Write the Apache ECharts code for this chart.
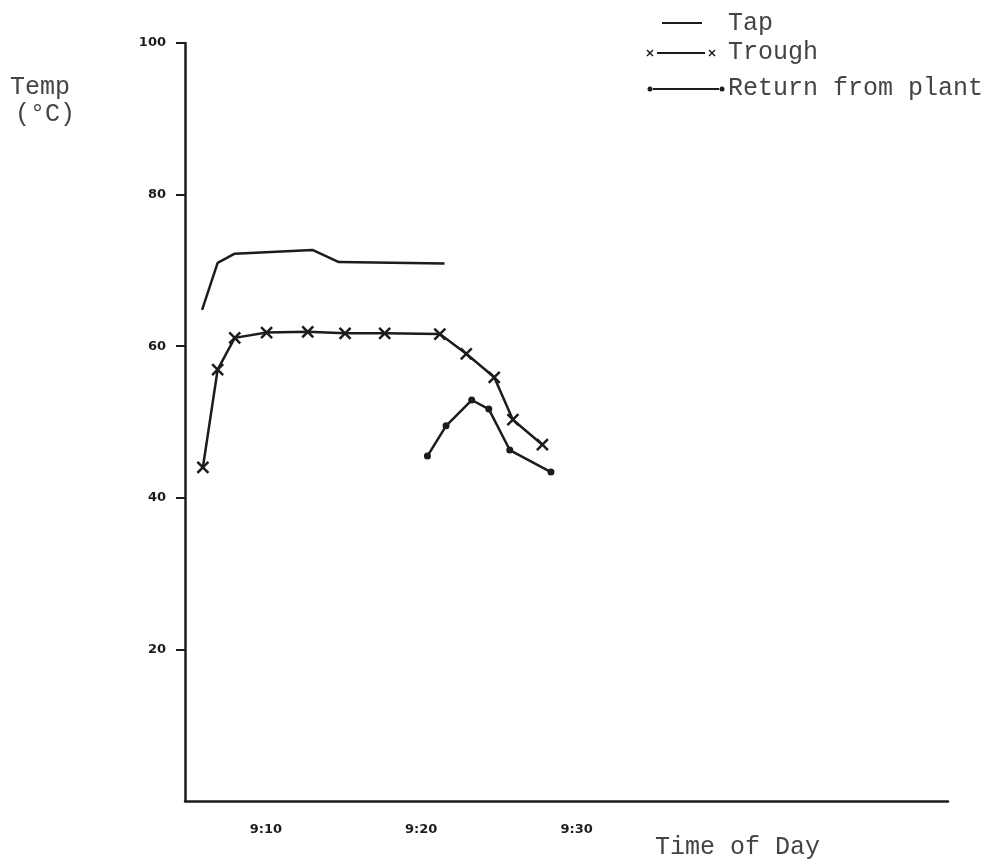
<!DOCTYPE html>
<html>
<head>
<meta charset="utf-8">
<script src="https://cdn.jsdelivr.net/npm/echarts@6/dist/echarts.min.js"></script>
<style>
  html, body { margin: 0; padding: 0; background: #ffffff; }
  #chart { width: 999px; height: 859px; }
</style>
</head>
<body>
<div id="chart"></div>
<script>
// Temperatures logged between 9:05 and 9:30; time is minutes past 9:00.
const seriesNames = ['Tap', 'Trough', 'Return from plant'];

const tapTime = [5.9, 6.9, 8.0, 13.0, 14.7, 21.5];
const tapTemp = [64.8, 71.0, 72.2, 72.7, 71.1, 70.9];

const troughTime = [5.95, 6.9, 8.0, 10.05, 12.7, 15.1, 17.65, 21.2, 22.9, 24.7, 25.9, 27.8];
const troughTemp = [44.0, 56.9, 61.1, 61.8, 61.9, 61.7, 61.7, 61.6, 59.0, 55.9, 50.3, 47.0];

const returnTime = [20.4, 21.6, 23.25, 24.35, 25.7, 28.35];
const returnTemp = [45.5, 49.5, 52.9, 51.7, 46.3, 43.4];

const timeTicks = [10, 20, 30];
const timeTickLabels = ['9:10', '9:20', '9:30'];
const tempTicks = [20, 40, 60, 80, 100];

const ink = '#1c1c1c';
const typeInk = '#444444';
const typeFont = '"Liberation Mono", "DejaVu Sans Mono", monospace';
const handFont = '"DejaVu Sans", sans-serif';

function pairs(xs, ys) {
  return xs.map((x, i) => [x, ys[i]]);
}

const crossPath = 'path://M0,0L10,10M10,0L0,10';

// small typed "x" used in the key
function keyCross(cx, cy) {
  return [
    { type: 'line', shape: { x1: cx - 3, y1: cy - 3, x2: cx + 3, y2: cy + 3 }, style: { stroke: ink, lineWidth: 1.5 } },
    { type: 'line', shape: { x1: cx + 3, y1: cy - 3, x2: cx - 3, y2: cy + 3 }, style: { stroke: ink, lineWidth: 1.5 } }
  ];
}

const chart = echarts.init(document.getElementById('chart'), null, { renderer: 'canvas' });

chart.setOption({
  backgroundColor: '#ffffff',
  animation: false,
  grid: { left: 185, right: 51, top: 43, bottom: 58, containLabel: false },
  xAxis: {
    type: 'value',
    min: 4.8,
    max: 53.9,
    axisLine: { show: true, lineStyle: { color: ink, width: 2.5 } },
    axisTick: { show: false },
    splitLine: { show: false },
    axisLabel: {
      customValues: timeTicks,
      margin: 22,
      color: ink,
      fontFamily: handFont,
      fontWeight: 'bold',
      fontSize: 13,
      formatter: v => timeTickLabels[timeTicks.indexOf(v)] || ''
    }
  },
  yAxis: {
    type: 'value',
    min: 0,
    max: 100,
    axisLine: { show: true, lineStyle: { color: ink, width: 2.5 } },
    axisTick: { show: true, customValues: tempTicks, length: 9, lineStyle: { color: ink, width: 2 } },
    splitLine: { show: false },
    axisLabel: {
      customValues: tempTicks,
      margin: 19,
      color: ink,
      fontFamily: handFont,
      fontWeight: 'bold',
      fontSize: 13
    }
  },
  series: [
    {
      name: seriesNames[0],
      type: 'line',
      data: pairs(tapTime, tapTemp),
      showSymbol: false,
      lineStyle: { color: ink, width: 2.5 },
      itemStyle: { color: ink }
    },
    {
      name: seriesNames[1],
      type: 'line',
      data: pairs(troughTime, troughTemp),
      symbol: crossPath,
      symbolSize: 11,
      lineStyle: { color: ink, width: 2.5 },
      itemStyle: { color: 'transparent', borderColor: ink, borderWidth: 2.5 }
    },
    {
      name: seriesNames[2],
      type: 'line',
      data: pairs(returnTime, returnTemp),
      symbol: 'circle',
      symbolSize: 7,
      lineStyle: { color: ink, width: 2.5 },
      itemStyle: { color: ink }
    }
  ],
  graphic: [
    // axis titles
    { type: 'text', x: 10, y: 75, style: { text: 'Temp', font: '25px ' + typeFont, fill: typeInk } },
    { type: 'text', x: 15, y: 102, style: { text: '(\u00B0C)', font: '25px ' + typeFont, fill: typeInk } },
    { type: 'text', x: 655, y: 835, style: { text: 'Time of Day', font: '25px ' + typeFont, fill: typeInk } },

    // key: Tap
    { type: 'line', shape: { x1: 662, y1: 23, x2: 702, y2: 23 }, style: { stroke: ink, lineWidth: 2 } },
    { type: 'text', x: 728, y: 11, style: { text: seriesNames[0], font: '25px ' + typeFont, fill: typeInk } },

    // key: Trough
    { type: 'line', shape: { x1: 657, y1: 53, x2: 705, y2: 53 }, style: { stroke: ink, lineWidth: 2 } },
    ...keyCross(650, 53),
    ...keyCross(712, 53),
    { type: 'text', x: 728, y: 40, style: { text: seriesNames[1], font: '25px ' + typeFont, fill: typeInk } },

    // key: Return from plant
    { type: 'line', shape: { x1: 653, y1: 89, x2: 719, y2: 89 }, style: { stroke: ink, lineWidth: 2 } },
    { type: 'circle', shape: { cx: 650, cy: 89, r: 2.5 }, style: { fill: ink } },
    { type: 'circle', shape: { cx: 722, cy: 89, r: 2.5 }, style: { fill: ink } },
    { type: 'text', x: 728, y: 76, style: { text: seriesNames[2], font: '25px ' + typeFont, fill: typeInk } }
  ]
});
</script>
</body>
</html>
